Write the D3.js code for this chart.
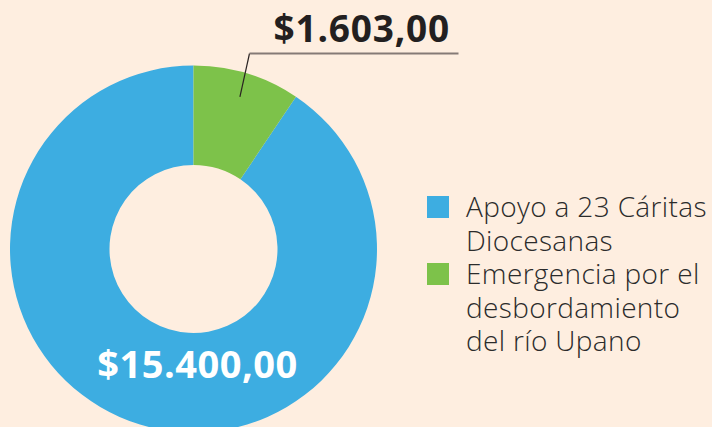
<!DOCTYPE html>
<html>
<head>
<style>
  body { margin: 0; background-color: #feeee0; }
  svg { display: block; }
</style>
<script src="https://cdn.jsdelivr.net/npm/d3@7/dist/d3.min.js"></script>
</head>
<body>
<div id="chart"></div>
<script>
  // data
  var categories = ["Apoyo a 23 Cáritas Diocesanas", "Emergencia por el desbordamiento del río Upano"];
  var values = [15400, 1603];
  var valueLabels = ["$15.400,00", "$1.603,00"];
  var legendLines = [["Apoyo a 23 Cáritas", "Diocesanas"], ["Emergencia por el", "desbordamiento", "del río Upano"]];
  var colors = ["#3dade1", "#7dc24a"];

  var width = 712, height = 427;
  var cx = 193.5, cy = 249, outerR = 183.5, innerR = 84;

  var svg = d3.select("#chart").append("svg")
    .attr("width", width)
    .attr("height", height);

  var data = categories.map(function(c, i) { return { name: c, value: values[i], label: valueLabels[i], color: colors[i] }; });

  // green slice starts at 12 o'clock, blue fills the rest
  var pie = d3.pie().sort(null).value(function(d) { return d.value; })
    .startAngle(2 * Math.PI).endAngle(0);
  var arcs = pie(data);
  var arc = d3.arc().innerRadius(innerR).outerRadius(outerR);

  var g = svg.append("g").attr("transform", "translate(" + cx + "," + cy + ")");
  g.selectAll("path").data(arcs).enter().append("path")
    .attr("d", arc)
    .attr("fill", function(d) { return d.data.color; });

  // big value label inside blue ring
  g.append("text")
    .attr("x", 4).attr("y", 129)
    .attr("text-anchor", "middle")
    .style("font-family", "'Open Sans', sans-serif")
    .style("font-weight", "bold")
    .style("font-size", "38px")
    .style("letter-spacing", "0.5px")
    .attr("fill", "#fff")
    .text(data[0].label);

  // callout for the small slice
  var a = arcs[1];
  var mid = (a.startAngle + a.endAngle) / 2;
  var p0 = [Math.sin(mid) * 159, -Math.cos(mid) * 159];
  var line = d3.line();
  g.append("path")
    .attr("d", line([p0, [56, -195.5]]))
    .attr("stroke", "#2a2322").attr("stroke-width", 1.2).attr("fill", "none");
  g.append("path")
    .attr("d", line([[56, -195.5], [265, -195.5]]))
    .attr("stroke", "#857a76").attr("stroke-width", 2).attr("fill", "none");

  svg.append("text")
    .attr("x", 450).attr("y", 42)
    .attr("text-anchor", "end")
    .style("font-family", "'Open Sans', sans-serif")
    .style("font-weight", "bold")
    .style("font-size", "37px")
    .style("letter-spacing", "0.8px")
    .attr("fill", "#231f20")
    .text(data[1].label);

  // legend
  var legend = svg.append("g").attr("transform", "translate(427,196)");
  var rowY = [0, 67];
  var item = legend.selectAll("g.item").data(data).enter().append("g")
    .attr("class", "item")
    .attr("transform", function(d, i) { return "translate(0," + rowY[i] + ")"; });
  item.append("rect")
    .attr("width", 22).attr("height", 22)
    .attr("fill", function(d) { return d.color; });
  item.append("text")
    .attr("x", 39)
    .style("font-family", "'Open Sans', sans-serif")
    .style("font-weight", "300")
    .style("font-size", "28px")
    .style("letter-spacing", "0.35px")
    .attr("fill", "#2b2b2b")
    .selectAll("tspan").data(function(d, i) { return legendLines[i]; }).enter().append("tspan")
      .attr("x", 39)
      .attr("y", function(d, j) { return 21 + j * 33.5; })
      .text(function(d) { return d; });
</script>
</body>
</html>
